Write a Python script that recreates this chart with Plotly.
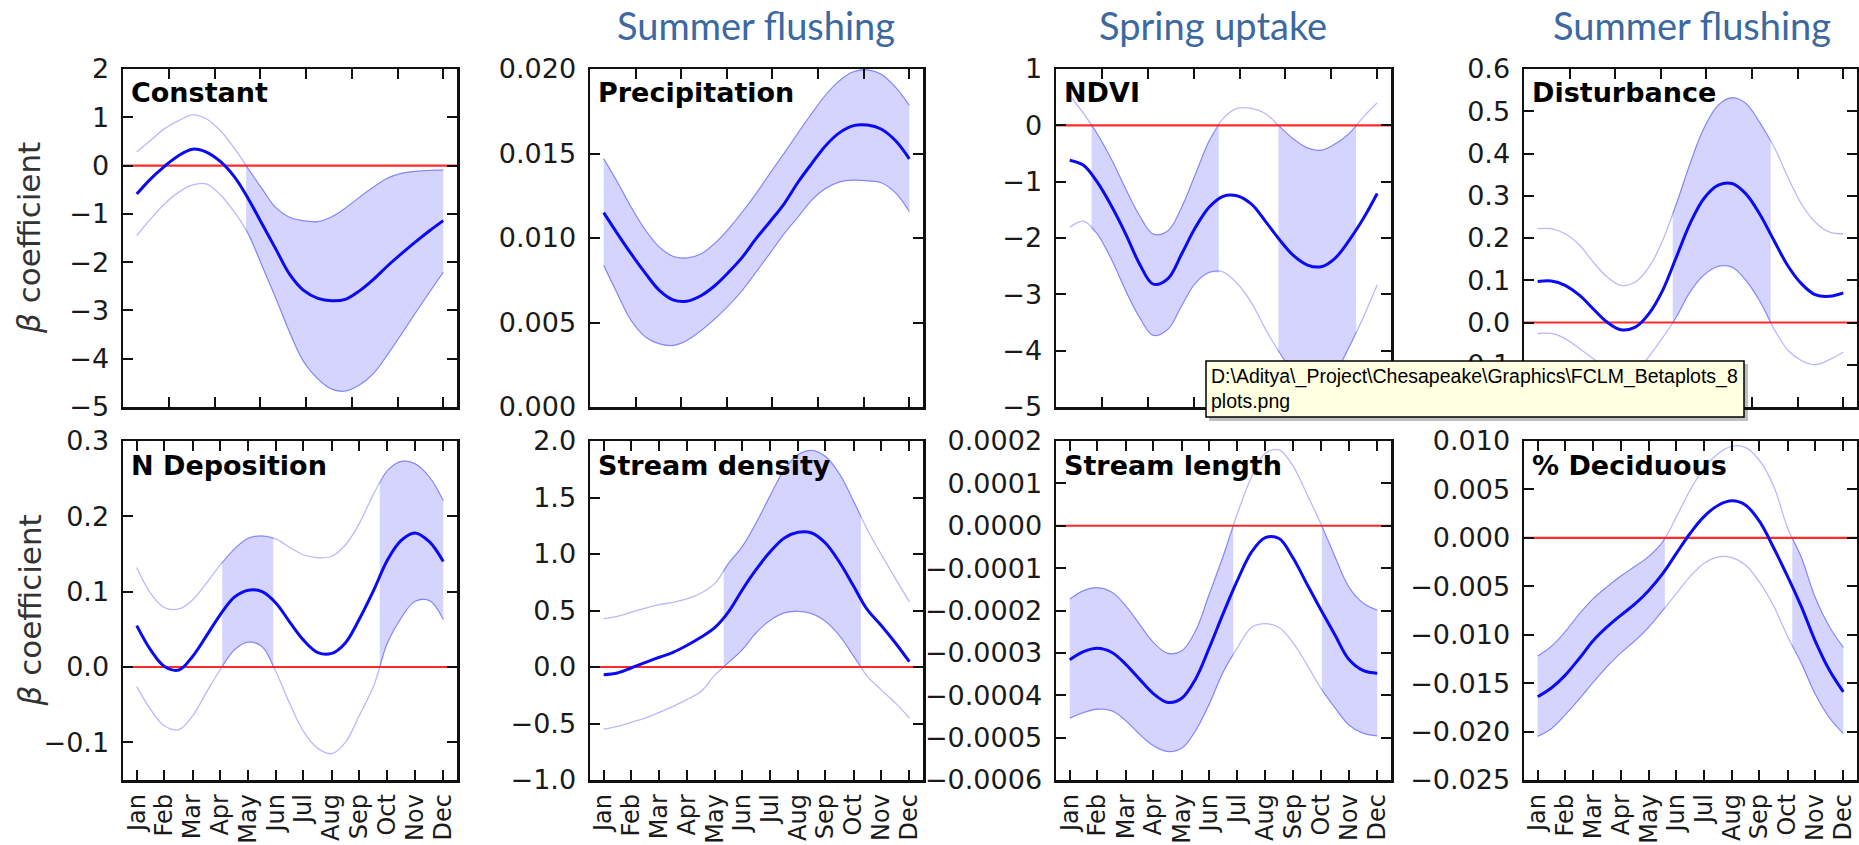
import plotly.graph_objects as go

W, H = 1859, 845

# ---------------- data ----------------
DAYS = [15, 30, 45, 61, 76, 91, 106, 122, 137, 152, 167, 182, 197, 213, 228, 243, 258, 274, 289, 304, 319, 335, 350]
MONTH_DAYS = [15, 45, 76, 106, 137, 167, 197, 228, 258, 289, 319, 350]
MONTHS = ["Jan", "Feb", "Mar", "Apr", "May", "Jun", "Jul", "Aug", "Sep", "Oct", "Nov", "Dec"]
TOP_TICKS = [0, 50, 100, 150, 200, 250, 300, 350]
X_RANGE = [0, 365]

TITLES = ["Constant", "Precipitation", "NDVI", "Disturbance",
          "N Deposition", "Stream density", "Stream length", "% Deciduous"]
HEADERS = ["Summer flushing", "Spring uptake", "Summer flushing"]
Y_LABEL = "<i>β</i> coefficient"
TOOLTIP = "D:\\Aditya\\_Project\\Chesapeake\\Graphics\\FCLM_Betaplots_8<br>plots.png"

CONST_MEAN = [-0.59, -0.28, -0.02, 0.21, 0.34, 0.28, 0.09, -0.24, -0.69, -1.21, -1.73, -2.25, -2.58, -2.75, -2.80, -2.77, -2.60, -2.35, -2.08, -1.83, -1.59, -1.35, -1.14]
CONST_HI = [0.28, 0.52, 0.76, 0.93, 1.05, 0.97, 0.73, 0.35, -0.07, -0.48, -0.87, -1.07, -1.14, -1.16, -1.06, -0.88, -0.66, -0.44, -0.26, -0.16, -0.12, -0.10, -0.09]
CONST_LO = [-1.45, -1.11, -0.80, -0.55, -0.40, -0.38, -0.60, -0.97, -1.42, -2.08, -2.75, -3.45, -4.05, -4.42, -4.63, -4.67, -4.55, -4.30, -3.92, -3.50, -3.07, -2.62, -2.21]

PRECIP_MEAN = [0.0115, 0.01026, 0.00907, 0.00789, 0.0069, 0.00634, 0.00626, 0.0066, 0.00719, 0.00798, 0.00887, 0.00996, 0.01095, 0.01204, 0.0133, 0.0144, 0.01545, 0.01625, 0.01665, 0.01668, 0.01645, 0.01575, 0.01468]
PRECIP_HI = [0.0147, 0.01332, 0.01184, 0.01045, 0.00947, 0.00892, 0.00882, 0.00907, 0.0097, 0.01055, 0.01154, 0.01263, 0.01381, 0.01504, 0.01622, 0.01737, 0.01845, 0.01934, 0.01984, 0.01995, 0.0197, 0.01892, 0.01785]
PRECIP_LO = [0.00838, 0.0067, 0.00512, 0.00413, 0.00374, 0.00364, 0.00393, 0.00453, 0.00522, 0.006, 0.0069, 0.00798, 0.00907, 0.01026, 0.01124, 0.01223, 0.01292, 0.01332, 0.01342, 0.01338, 0.01327, 0.01266, 0.01156]

NDVI_MEAN = [-0.62, -0.71, -1.01, -1.45, -1.93, -2.46, -2.82, -2.72, -2.28, -1.81, -1.45, -1.26, -1.25, -1.40, -1.70, -2.02, -2.30, -2.48, -2.51, -2.36, -2.05, -1.65, -1.21]
NDVI_HI = [0.53, 0.21, -0.15, -0.62, -1.13, -1.60, -1.93, -1.87, -1.45, -0.86, -0.27, 0.12, 0.30, 0.30, 0.21, -0.01, -0.23, -0.40, -0.44, -0.33, -0.15, 0.15, 0.40]
NDVI_LO = [-1.81, -1.70, -1.93, -2.40, -2.94, -3.41, -3.73, -3.62, -3.20, -2.80, -2.61, -2.60, -2.80, -3.15, -3.61, -4.02, -4.36, -4.54, -4.57, -4.38, -3.95, -3.40, -2.83]

DIST_MEAN = [0.097, 0.098, 0.088, 0.064, 0.032, 0.001, -0.017, -0.011, 0.021, 0.076, 0.155, 0.234, 0.293, 0.325, 0.329, 0.305, 0.258, 0.194, 0.135, 0.092, 0.066, 0.062, 0.070]
DIST_HI = [0.222, 0.222, 0.210, 0.183, 0.143, 0.108, 0.088, 0.096, 0.131, 0.194, 0.281, 0.376, 0.459, 0.515, 0.532, 0.519, 0.475, 0.416, 0.345, 0.281, 0.238, 0.214, 0.210]
DIST_LO = [-0.026, -0.026, -0.038, -0.062, -0.086, -0.108, -0.122, -0.118, -0.080, -0.036, 0.013, 0.072, 0.112, 0.133, 0.131, 0.100, 0.052, -0.015, -0.065, -0.090, -0.100, -0.088, -0.070]

NDEP_MEAN = [0.055, 0.023, 0.001, -0.004, 0.014, 0.041, 0.069, 0.093, 0.102, 0.100, 0.085, 0.060, 0.036, 0.019, 0.018, 0.032, 0.063, 0.102, 0.142, 0.168, 0.178, 0.166, 0.140]
NDEP_HI = [0.132, 0.098, 0.079, 0.077, 0.089, 0.111, 0.135, 0.157, 0.171, 0.174, 0.170, 0.159, 0.149, 0.145, 0.147, 0.162, 0.190, 0.230, 0.261, 0.273, 0.270, 0.252, 0.221]
NDEP_LO = [-0.026, -0.056, -0.078, -0.083, -0.065, -0.034, -0.004, 0.023, 0.033, 0.027, -0.006, -0.048, -0.085, -0.108, -0.115, -0.100, -0.065, -0.025, 0.032, 0.065, 0.087, 0.088, 0.063]

SDENS_MEAN = [-0.068, -0.053, -0.009, 0.041, 0.086, 0.130, 0.190, 0.265, 0.350, 0.490, 0.684, 0.861, 1.015, 1.142, 1.192, 1.186, 1.097, 0.920, 0.714, 0.507, 0.370, 0.210, 0.047]
SDENS_HI = [0.428, 0.448, 0.484, 0.522, 0.552, 0.572, 0.602, 0.655, 0.740, 0.920, 1.068, 1.274, 1.510, 1.746, 1.879, 1.917, 1.864, 1.702, 1.466, 1.215, 1.000, 0.780, 0.578]
SDENS_LO = [-0.549, -0.525, -0.490, -0.451, -0.401, -0.348, -0.289, -0.215, -0.070, 0.040, 0.153, 0.301, 0.410, 0.478, 0.493, 0.472, 0.404, 0.271, 0.094, -0.083, -0.200, -0.320, -0.451]

SLEN_MEAN = [-3.16e-4, -2.97e-4, -2.89e-4, -2.99e-4, -3.27e-4, -3.62e-4, -3.96e-4, -4.17e-4, -4.07e-4, -3.62e-4, -2.88e-4, -2.08e-4, -1.32e-4, -0.62e-4, -0.28e-4, -0.30e-4, -0.75e-4, -1.40e-4, -2.00e-4, -2.58e-4, -3.15e-4, -3.42e-4, -3.48e-4]
SLEN_HI = [-1.73e-4, -1.53e-4, -1.46e-4, -1.57e-4, -1.89e-4, -2.32e-4, -2.75e-4, -3.01e-4, -2.95e-4, -2.48e-4, -1.61e-4, -0.72e-4, 0.25e-4, 1.15e-4, 1.71e-4, 1.79e-4, 1.42e-4, 0.72e-4, 0.03e-4, -0.73e-4, -1.44e-4, -1.83e-4, -1.99e-4]
SLEN_LO = [-4.54e-4, -4.41e-4, -4.33e-4, -4.37e-4, -4.60e-4, -4.92e-4, -5.19e-4, -5.33e-4, -5.25e-4, -4.84e-4, -4.21e-4, -3.46e-4, -2.90e-4, -2.40e-4, -2.31e-4, -2.40e-4, -2.75e-4, -3.30e-4, -3.85e-4, -4.30e-4, -4.70e-4, -4.90e-4, -4.96e-4]

DECID_MEAN = [-0.0164, -0.0155, -0.0142, -0.0124, -0.0106, -0.0092, -0.0080, -0.0068, -0.0054, -0.0037, -0.0016, 0.00045, 0.00217, 0.00337, 0.00382, 0.00337, 0.00172, -0.0011, -0.0040, -0.0071, -0.0106, -0.0137, -0.0159]
DECID_HI = [-0.0122, -0.0112, -0.0097, -0.0078, -0.00626, -0.00505, -0.00395, -0.00292, -0.00189, -0.00041, 0.00217, 0.00492, 0.00715, 0.0087, 0.00946, 0.00932, 0.00801, 0.00526, 0.0010, -0.0020, -0.0061, -0.0092, -0.0113]
DECID_LO = [-0.0205, -0.0197, -0.0183, -0.0166, -0.0149, -0.0133, -0.0119, -0.0106, -0.0092, -0.0075, -0.00574, -0.0040, -0.00265, -0.00196, -0.00203, -0.00282, -0.00454, -0.0071, -0.0102, -0.01296, -0.0161, -0.0186, -0.0202]

MEANS = [CONST_MEAN, PRECIP_MEAN, NDVI_MEAN, DIST_MEAN, NDEP_MEAN, SDENS_MEAN, SLEN_MEAN, DECID_MEAN]
HIS = [CONST_HI, PRECIP_HI, NDVI_HI, DIST_HI, NDEP_HI, SDENS_HI, SLEN_HI, DECID_HI]
LOS = [CONST_LO, PRECIP_LO, NDVI_LO, DIST_LO, NDEP_LO, SDENS_LO, SLEN_LO, DECID_LO]

Y_RANGES = [[-5, 2], [0, 0.02], [-5, 1], [-0.2, 0.6],
            [-0.15, 0.3], [-1, 2], [-0.0006, 0.0002], [-0.025, 0.010]]
Y_TICKS = [
    [-5, -4, -3, -2, -1, 0, 1, 2],
    [0.0, 0.005, 0.010, 0.015, 0.020],
    [-5, -4, -3, -2, -1, 0, 1],
    [-0.2, -0.1, 0.0, 0.1, 0.2, 0.3, 0.4, 0.5, 0.6],
    [-0.1, 0.0, 0.1, 0.2, 0.3],
    [-1.0, -0.5, 0.0, 0.5, 1.0, 1.5, 2.0],
    [-0.0006, -0.0005, -0.0004, -0.0003, -0.0002, -0.0001, 0.0, 0.0001, 0.0002],
    [-0.025, -0.020, -0.015, -0.010, -0.005, 0.0, 0.005, 0.010],
]
Y_FORMATS = ["d", ".3f", "d", ".1f", ".1f", ".1f", ".4f", ".3f"]

# ---------------- layout geometry (pixels) ----------------
COLS_PX = [(123, 457), (590, 923), (1056, 1391), (1524, 1857)]
ROWS_PX = [(69, 407), (441, 780)]
HEADER_PX = [(756, 25), (1213, 25), (1692, 25)]

FILL = "rgba(0,0,255,0.17)"
EDGE = "rgba(0,0,255,0.22)"
CI_LINE = "rgba(0,0,255,0.28)"
AX = "#111111"
TICKFONT = dict(family="DejaVu Sans", size=27, color="#1a1a1a")
MONTHFONT = dict(family="DejaVu Sans", size=24, color="#1a1a1a")


def px_x(p):
    return p / W


def px_y(p):
    return 1 - p / H


def crossing(x, lo, hi, a, b):
    if (lo[a] > 0) != (lo[b] > 0):
        f = lo[a] / (lo[a] - lo[b])
    else:
        f = hi[a] / (hi[a] - hi[b])
    return (x[a] + f * (x[b] - x[a]),
            lo[a] + f * (lo[b] - lo[a]),
            hi[a] + f * (hi[b] - hi[a]))


def sig_segments(x, lo, hi):
    n = len(x)
    sig = [(lo[i] > 0) or (hi[i] < 0) for i in range(n)]
    segs = []
    i = 0
    while i < n:
        if not sig[i]:
            i += 1
            continue
        j = i
        while j + 1 < n and sig[j + 1]:
            j += 1
        xs, ls, hs = [], [], []
        if i > 0:
            c = crossing(x, lo, hi, i - 1, i)
            xs.append(c[0]); ls.append(c[1]); hs.append(c[2])
        xs += x[i:j + 1]; ls += lo[i:j + 1]; hs += hi[i:j + 1]
        if j < n - 1:
            c = crossing(x, lo, hi, j, j + 1)
            xs.append(c[0]); ls.append(c[1]); hs.append(c[2])
        segs.append((xs, ls, hs))
        i = j + 1
    return segs


fig = go.Figure()
annotations = []
shapes = []

for k in range(8):
    r, c = divmod(k, 4)
    n = k + 1
    xa = f"x{n}" if n > 1 else "x"
    ya = f"y{n}" if n > 1 else "y"
    mean, hi, lo = MEANS[k], HIS[k], LOS[k]

    # significant (shaded) segments
    for xs, ls, hs in sig_segments(DAYS, lo, hi):
        fig.add_trace(go.Scatter(x=xs, y=ls, mode="lines", xaxis=xa, yaxis=ya,
                                 line=dict(color=EDGE, width=1, shape="spline"),
                                 hoverinfo="skip", showlegend=False))
        fig.add_trace(go.Scatter(x=xs, y=hs, mode="lines", xaxis=xa, yaxis=ya,
                                 fill="tonexty", fillcolor=FILL,
                                 line=dict(color=EDGE, width=1, shape="spline"),
                                 hoverinfo="skip", showlegend=False))
    # confidence bounds
    for b in (hi, lo):
        fig.add_trace(go.Scatter(x=DAYS, y=b, mode="lines", xaxis=xa, yaxis=ya,
                                 line=dict(color=CI_LINE, width=1.3, shape="spline"),
                                 hoverinfo="skip", showlegend=False))
    # zero line (hidden behind the frame when zero is the axis limit)
    if Y_RANGES[k][0] < 0 < Y_RANGES[k][1]:
        fig.add_trace(go.Scatter(x=X_RANGE, y=[0, 0], mode="lines", xaxis=xa, yaxis=ya,
                                 line=dict(color="rgba(255,20,20,0.9)", width=2.2),
                                 hoverinfo="skip", showlegend=False))
    # mean
    fig.add_trace(go.Scatter(x=DAYS, y=mean, mode="lines", xaxis=xa, yaxis=ya,
                             line=dict(color="rgb(10,10,245)", width=3, shape="spline"),
                             hoverinfo="skip", showlegend=False))

    x0, x1 = COLS_PX[c]
    y0, y1 = ROWS_PX[r]
    xaxis = dict(domain=[px_x(x0), px_x(x1)], range=X_RANGE, anchor=ya,
                 showgrid=False, zeroline=False, showline=True, linecolor=AX,
                 linewidth=2.5, mirror="ticks", ticks="inside", ticklen=10,
                 tickwidth=2, tickcolor=AX, tickfont=MONTHFONT, automargin=False)
    if r == 0:
        xaxis.update(tickmode="array", tickvals=TOP_TICKS, showticklabels=False)
    else:
        xaxis.update(tickmode="array", tickvals=MONTH_DAYS, ticktext=MONTHS,
                     tickangle=-90, ticklabelstandoff=2)
    yaxis = dict(domain=[px_y(y1), px_y(y0)], range=Y_RANGES[k], anchor=xa,
                 showgrid=False, zeroline=False, showline=True, linecolor=AX,
                 linewidth=2.5, mirror="ticks", ticks="inside", ticklen=10,
                 tickwidth=2, tickcolor=AX, tickmode="array", tickvals=Y_TICKS[k],
                 tickformat=Y_FORMATS[k], tickfont=TICKFONT, ticklabelstandoff=6,
                 automargin=False)
    fig.update_layout({("xaxis" if n == 1 else f"xaxis{n}"): xaxis,
                       ("yaxis" if n == 1 else f"yaxis{n}"): yaxis})

    annotations.append(dict(text=f"<b>{TITLES[k]}</b>", xref="paper", yref="paper",
                            x=px_x(x0 + 6), y=px_y(y0 + 24), xanchor="left", yanchor="middle",
                            showarrow=False,
                            font=dict(family="DejaVu Sans", size=27, color="black")))

# y-axis titles
for r in range(2):
    y0, y1 = ROWS_PX[r]
    annotations.append(dict(text=Y_LABEL, xref="paper", yref="paper",
                            x=px_x(29), y=px_y((y0 + y1) / 2), xanchor="center", yanchor="middle",
                            textangle=-90, showarrow=False,
                            font=dict(family="DejaVu Sans", size=31, color="#333333")))

# slide headers
for txt, (hx, hy) in zip(HEADERS, HEADER_PX):
    annotations.append(dict(text=txt, xref="paper", yref="paper", x=px_x(hx), y=px_y(hy),
                            xanchor="center", yanchor="middle", showarrow=False,
                            font=dict(family="Lato", size=38, color="#3b69a0")))

# tooltip box
shapes.append(dict(type="rect", xref="paper", yref="paper", layer="above",
                   x0=px_x(1209), x1=px_x(1748), y0=px_y(421), y1=px_y(364),
                   fillcolor="rgba(0,0,0,0.25)", line=dict(width=0)))
shapes.append(dict(type="rect", xref="paper", yref="paper", layer="above",
                   x0=px_x(1206), x1=px_x(1744), y0=px_y(417), y1=px_y(361),
                   fillcolor="#ffffe1", line=dict(color="black", width=1.5)))
annotations.append(dict(text=TOOLTIP, xref="paper", yref="paper", x=px_x(1209), y=px_y(389),
                        xanchor="left", yanchor="middle", align="left", showarrow=False,
                        font=dict(family="Liberation Sans", size=19.5, color="black")))

fig.update_layout(width=W, height=H, margin=dict(l=0, r=0, t=0, b=0, autoexpand=False),
                  paper_bgcolor="white", plot_bgcolor="white",
                  annotations=annotations, shapes=shapes, showlegend=False)

fig.write_html("out.html",
               config={"displayModeBar": False, "staticPlot": True},
               post_script="document.body.style.margin='0';"
                           "document.body.style.overflow='hidden';")
